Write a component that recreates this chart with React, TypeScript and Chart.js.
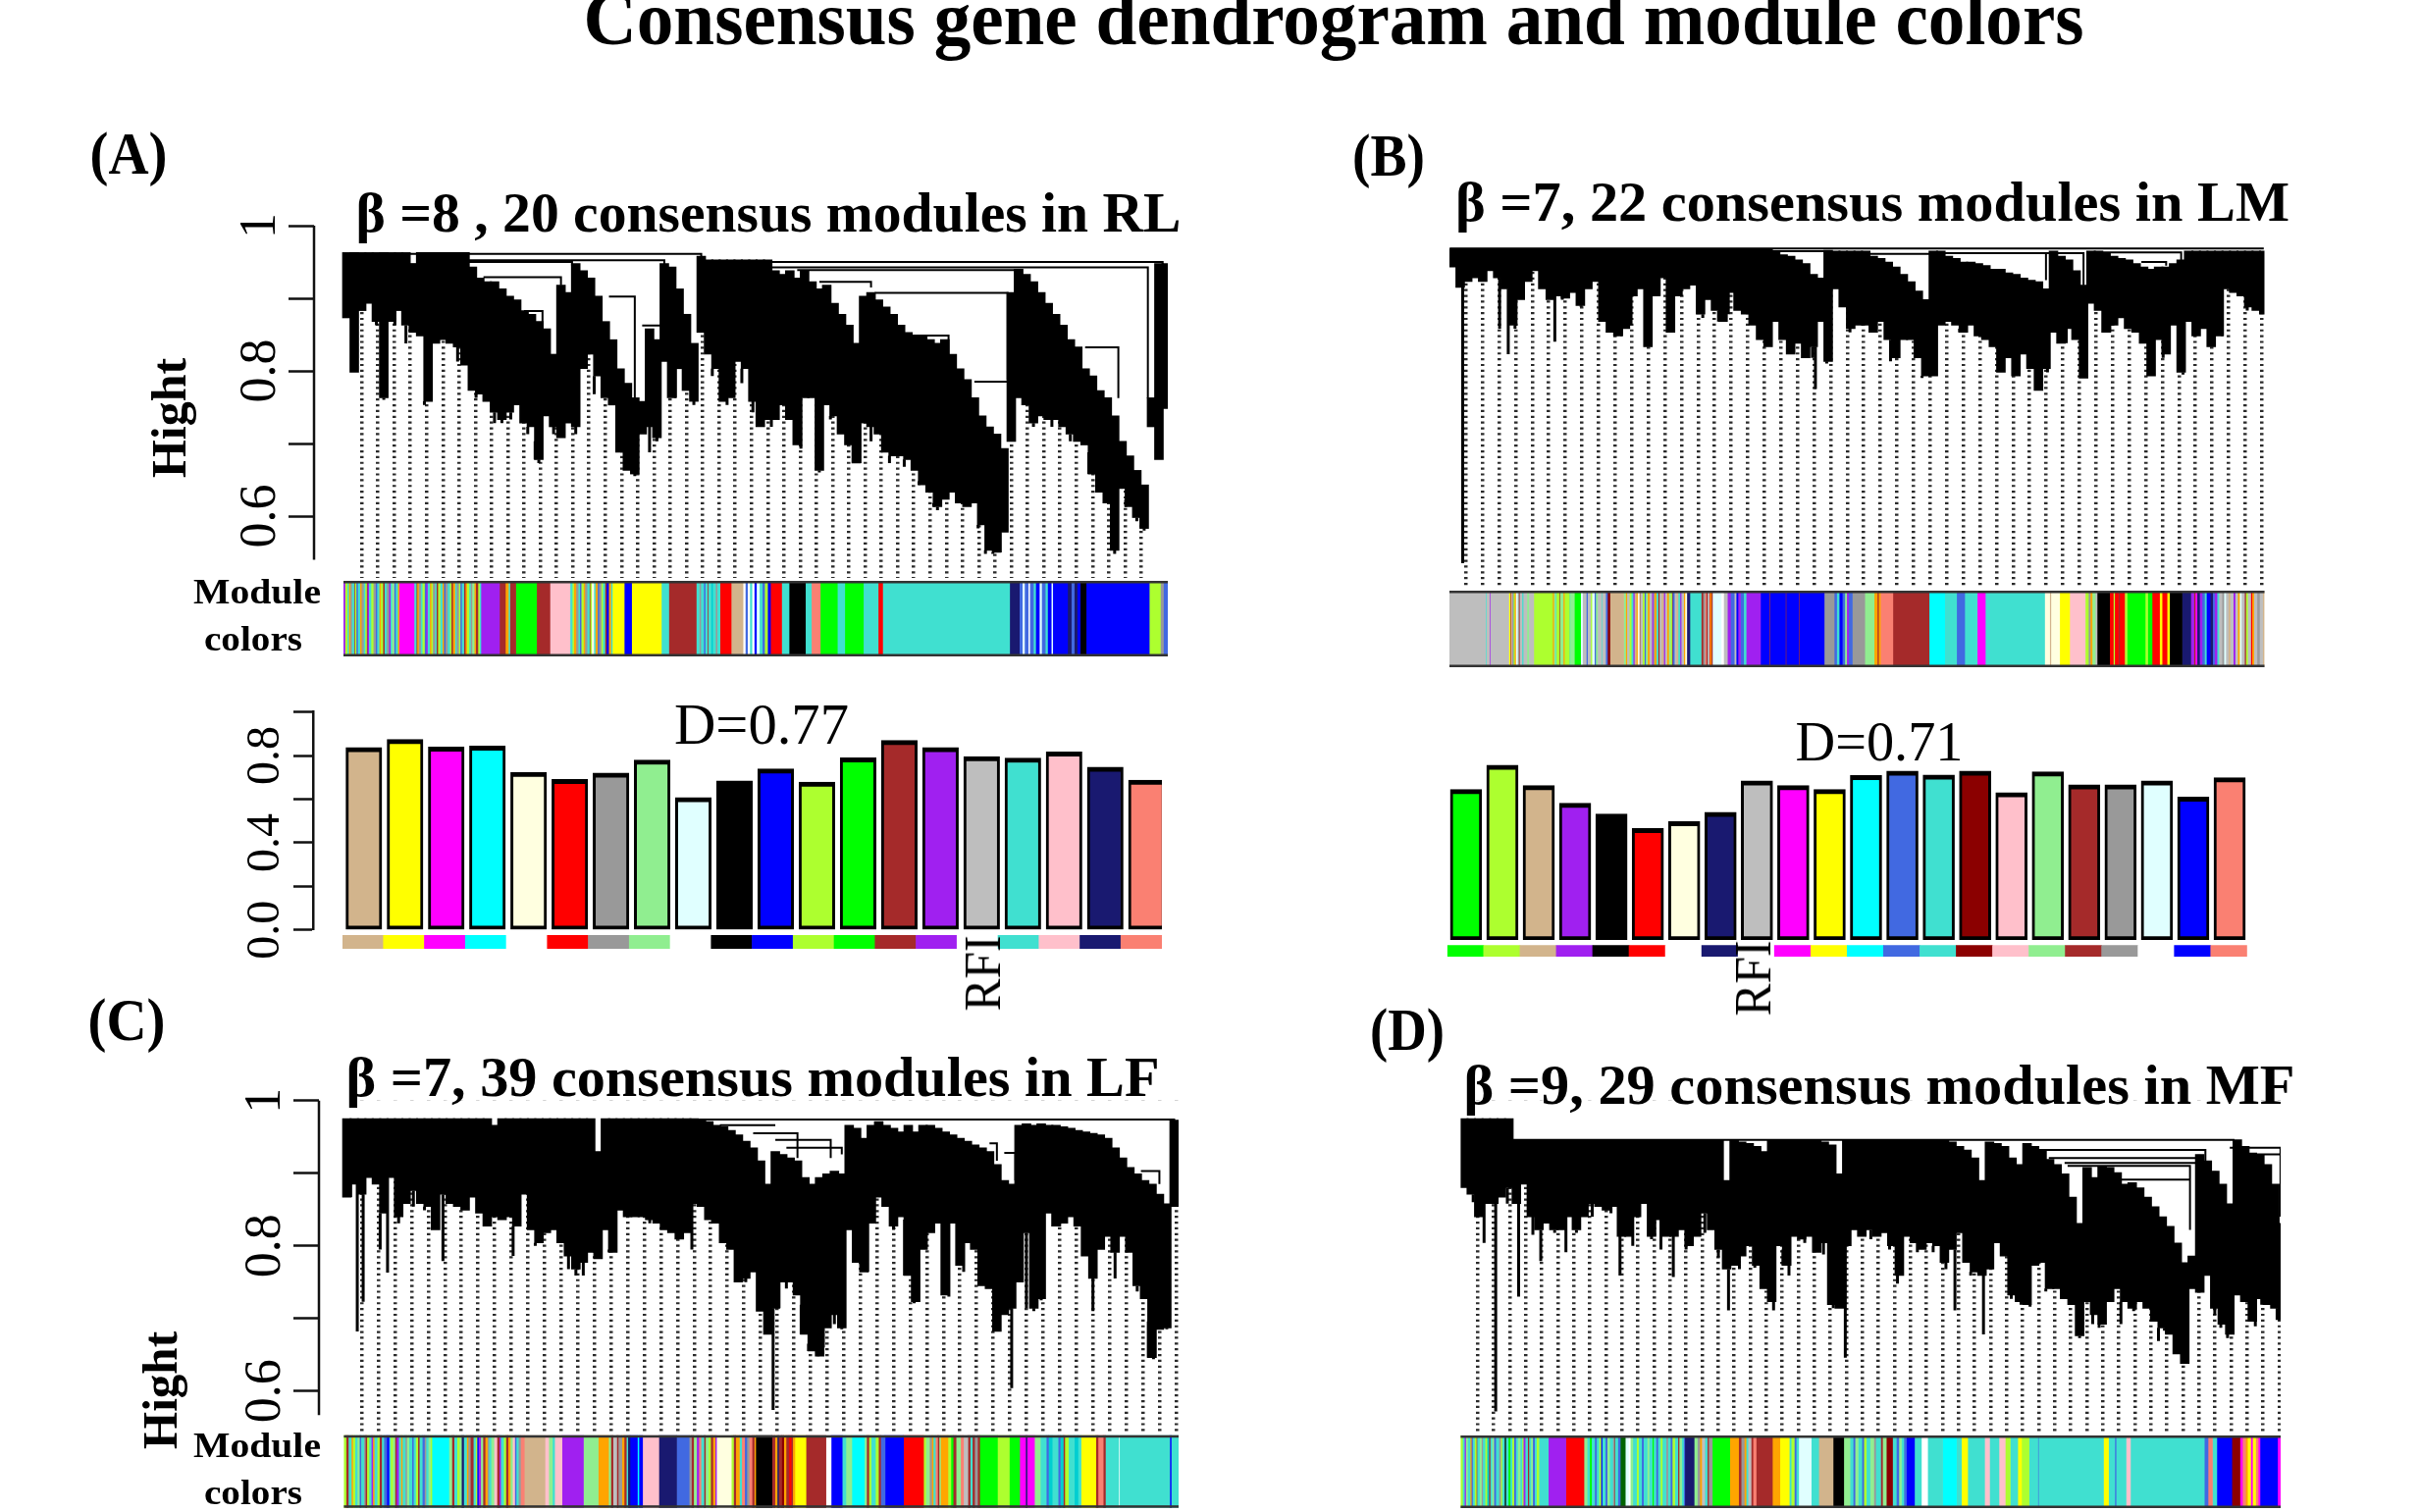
import React, { useEffect, useRef } from 'react';
import { Chart, registerables } from 'chart.js';

Chart.register(...registerables);

const SERIF = '"Liberation Serif"';

const PALETTE: Record<string, string> = {
  T: '#40E0D0', B: '#0000FF', N: '#A52A2A', Y: '#FFFF00', G: '#00FF00', R: '#FF0000', K: '#000000',
  P: '#FFC0CB', M: '#FF00FF', U: '#A020F0', L: '#ADFF2F', A: '#D2B48C', S: '#FA8072', C: '#00FFFF',
  V: '#191970', H: '#E0FFFF', X: '#999999', I: '#90EE90', Q: '#FFFFE0', O: '#4169E1', D: '#8B0000',
  E: '#BEBEBE', W: '#FFFFFF', F: '#FFA500', Z: '#006400', J: '#00CED1',
};

// ---- dendrogram A (RL)
const aLow = [
  .873,.798,.883,.893,.868,.763,.868,.883,.863,.853,
  .848,.758,.838,.843,.838,.833,.808,.773,.768,.758,
  .743,.733,.743,.753,.728,.723,.678,.738,.723,.708,
  .728,.723,.803,.823,.793,.763,.753,.688,.663,.658,
  .713,.723,.708,.813,.763,.803,.773,.758,.853,.823,
  .803,.758,.763,.813,.803,.758,.723,.733,.733,.753,
  .733,.698,.763,.763,.663,.753,.738,.713,.698,.673,
  .728,.723,.713,.688,.683,.683,.678,.663,.643,.633,
  .613,.623,.633,.618,.613,.618,.588,.553,.550,.578,
  .703,.763,.753,.728,.738,.733,.733,.723,.713,.703,
  .698,.658,.633,.618,.553,.638,.613,.598,.583,.723,
  .678,.748,
];
const aTop = [
  .963,.963,.963,.963,.963,.963,.963,.963,.963,.948,
  .963,.963,.963,.963,.963,.963,.963,.943,.928,.923,
  .923,.913,.903,.898,.883,.878,.868,.858,.823,.918,
  .908,.948,.938,.928,.903,.868,.843,.803,.783,.763,
  .758,.858,.843,.948,.943,.913,.878,.838,.958,.953,
  .953,.953,.953,.953,.953,.953,.953,.953,.938,.933,
  .938,.928,.938,.923,.913,.918,.893,.878,.863,.838,
  .903,.908,.898,.888,.878,.863,.853,.848,.848,.843,
  .838,.843,.823,.803,.788,.763,.738,.723,.713,.693,
  .908,.940,.933,.923,.908,.893,.878,.863,.843,.833,
  .803,.793,.773,.763,.738,.703,.683,.663,.643,.763,
  .948,.948,
];
const aSpikeX = [1,5,10.5,21,26,39,42,51.5,56,64,69.5,80,87.5,104,108,110,
  4,6.5,8,12.5,15,17.5,18.5,20,22.2,24.5,25.5,28,31,33.5,35.5,37.5,38.5,41,44.5,47,49.5,53.5,55,57.5,59.5,61.5,65.5,67.5,71,73.5,75.5,77.5,79.5,82.5,85.5,86.5,88.5,93,95.5,98,100.5,102.5,105.5,107];
const aSpikeV = [.798,.760,.753,.728,.673,.655,.703,.753,.723,.660,.673,.608,.548,.548,.580,.678,
  .863,.863,.838,.843,.813,.763,.758,.728,.733,.713,.703,.713,.713,.768,.753,.663,.658,.688,.763,.753,.793,.783,.743,.723,.733,.693,.733,.698,.703,.673,.668,.648,.618,.618,.583,.548,.550,.723,.723,.703,.688,.618,.623,.593];
const aBranches = [
  [8.5,48,.961,.955],[16,43,.9525,.860],[16,30.5,.950,.945],[18.5,29,.929,.918],[24,26.5,.8825,.8375],
  [35.5,39,.9025,.7625],[40,43,.8625,.8625],[57,110.5,.950,.9025],[57,108.5,.9425,.7625],[61,90.5,.939,.9075],
  [64,71,.9225,.915],[71.5,89.5,.9075,.7875],[76,81.5,.8488,.823],[85,89.5,.785,.785],[100,104.5,.8325,.7625],
];

// ---- dendrogram B (LM)
const bLow = [
  .943,.915,.923,.928,.923,.938,.928,.913,.863,.898,
  .923,.938,.913,.898,.903,.900,.908,.890,.913,.923,
  .868,.853,.848,.858,.903,.913,.833,.903,.928,.853,
  .903,.913,.918,.878,.898,.883,.868,.908,.883,.878,
  .863,.843,.833,.868,.843,.823,.838,.818,.833,.868,
  .813,.913,.888,.858,.863,.863,.853,.868,.843,.818,
  .843,.843,.818,.793,.793,.863,.868,.863,.853,.863,
  .848,.843,.833,.798,.818,.793,.823,.803,.773,.803,
  .853,.838,.858,.843,.790,.893,.883,.853,.863,.873,
  .858,.853,.838,.793,.843,.823,.863,.798,.868,.848,
  .858,.833,.848,.913,.908,.903,.888,.883,.878,
];
const bTop = [
  .968,.968,.968,.968,.968,.968,.968,.968,.968,.968,
  .968,.968,.968,.968,.968,.968,.968,.968,.968,.968,
  .968,.968,.968,.968,.968,.968,.968,.968,.968,.968,
  .968,.968,.968,.968,.968,.968,.968,.968,.968,.968,
  .968,.968,.968,.963,.960,.958,.953,.948,.933,.928,
  .966,.965,.965,.965,.965,.965,.958,.955,.950,.943,
  .933,.923,.910,.898,.965,.965,.958,.955,.950,.950,
  .948,.945,.940,.940,.935,.933,.928,.925,.923,.913,
  .965,.958,.953,.938,.918,.965,.965,.963,.958,.955,
  .953,.948,.943,.940,.943,.943,.948,.953,.965,.965,
  .965,.965,.965,.965,.965,.965,.965,.965,.965,
];
const bSpikeX = [1.33,6.25,7.4,8.3,13.6,26.1,29,48.3,49.8,62.5,63.9,78.2,83.75,92.75,97.25,101.25,102.5,
  3.5,10.4,12.9,14.6,17.1,20,21.7,22.5,23.75,27.5,33.3,35.4,36.7,40.8,42.1,44.6,46.7,47.9,52.9,55,58.3,60.4,67.5,70.8,73.3,75,77.1,79.2,81.7,87.5,90,94.6,98.75,100,105.8];
const bSpikeV = [.535,.858,.823,.858,.840,.833,.853,.775,.810,.790,.793,.773,.790,.793,.795,.833,.848,
  .923,.923,.898,.898,.888,.868,.848,.848,.863,.903,.873,.868,.878,.843,.833,.823,.818,.818,.853,.863,.813,.843,.858,.843,.798,.793,.803,.798,.838,.853,.858,.818,.848,.858,.883];
const bBranches = [
  [-.4,108,.9685,.9685],[42.5,49.6,.965,.928],[55.4,63.75,.961,.8975],[64,79,.962,.925],
  [79,84,.962,.918],[85,97,.963,.948],[91.7,95,.950,.945],
];

// ---- dendrogram C (LF)
const cLow = [
  .867,.885,.871,.894,.885,.845,.894,.840,.858,.876,
  .858,.854,.822,.871,.858,.854,.849,.867,.845,.827,
  .840,.836,.840,.827,.871,.822,.804,.818,.822,.804,
  .786,.768,.777,.791,.782,.822,.791,.849,.840,.840,
  .840,.836,.831,.822,.818,.809,.818,.858,.854,.836,
  .831,.804,.795,.750,.755,.764,.710,.678,.714,.750,
  .750,.732,.678,.655,.648,.687,.705,.687,.822,.777,
  .764,.831,.867,.854,.827,.840,.759,.723,.795,.818,
  .831,.732,.831,.773,.804,.795,.745,.741,.682,.705,
  .714,.750,.818,.714,.727,.845,.827,.831,.840,.827,
  .786,.755,.795,.813,.791,.813,.791,.745,.727,.646,
  .685,.687,.854,
];
const cTop = [
  .975,.975,.975,.975,.975,.975,.975,.975,.975,.975,
  .975,.975,.975,.975,.975,.975,.975,.975,.975,.975,
  .966,.975,.975,.975,.975,.975,.975,.975,.975,.975,
  .975,.975,.975,.975,.930,.975,.975,.975,.975,.975,
  .975,.975,.975,.975,.975,.975,.975,.975,
  .973,.971,.966,.964,.959,.953,.944,.935,.917,.885,
  .930,.926,.921,.917,.894,.885,.894,.899,.903,.899,
  .966,.962,.948,.966,.971,.966,.962,.957,.966,.957,
  .966,.966,.962,.957,.953,.948,.944,.939,.935,.930,
  .912,.890,.885,.966,.968,.966,.968,.966,.966,.964,
  .962,.959,.957,.955,.953,.948,.935,.921,.908,.899,
  .890,.885,.871,.858,.973,
];
const cSpikeX = [1.4,2.2,5.5,13,22.5,32,53,57.7,63.8,67,76.8,81.5,90,94,109.2,
  .5,4.5,7,9,10.5,15.5,18.5,25.5,30,31,35.5,41,44.5,46.7,49.5,51.5,54,56,58.5,59.5,61.5,62.5,64.5,66,69.5,70.5,74,75.5,83.5,86,88,89,92,93,96.5,101,104,107,108.5,111];
const cSpikeV = [.682,.723,.763,.779,.786,.759,.750,.574,.649,.685,.721,.730,.604,.725,.644,
  .867,.795,.831,.854,.849,.849,.827,.800,.768,.759,.795,.831,.809,.795,.836,.795,.750,.710,.714,.741,.719,.665,.660,.692,.764,.764,.822,.836,.764,.745,.682,.705,.714,.710,.827,.710,.755,.737,.696,.685];
const cBranches = [
  [47,112,.974,.885],[50.5,58,.966,.966],[55,61,.955,.921],[58,65.5,.946,.921],[59.5,67,.935,.926],
  [87,88,.941,.917],[89,90.5,.928,.890],[107.5,110,.903,.885],
];

// ---- dendrogram D (MF)
const dLow = [
  .880,.871,.840,.858,.858,.867,.880,.858,.885,.840,
  .822,.831,.822,.822,.840,.822,.840,.858,.854,.849,
  .854,.813,.813,.840,.858,.813,.836,.813,.813,.822,
  .800,.813,.845,.822,.795,.768,.773,.786,.800,.773,
  .741,.723,.800,.773,.813,.809,.813,.791,.804,.719,
  .714,.800,.822,.813,.822,.813,.818,.800,.759,.813,
  .804,.795,.804,.800,.777,.795,.818,.777,.764,.759,
  .768,.804,.786,.732,.723,.719,.773,.777,.741,.741,
  .727,.719,.676,.723,.705,.692,.723,.741,.723,.714,
  .723,.714,.696,.687,.678,.651,.638,.741,.736,.759,
  .714,.692,.678,.732,.723,.696,.727,.719,.714,.698,
];
const dTop = [
  .975,.975,.975,.975,.975,.975,.975,.946,.946,.946,
  .946,.946,.946,.946,.946,.946,.946,.946,.946,.946,
  .946,.946,.946,.946,.946,.946,.946,.946,.946,.946,
  .946,.946,.946,.946,.946,.890,.946,.943,.941,.937,
  .930,.946,.946,.946,.946,.946,.946,.946,.943,.939,
  .899,.946,.946,.946,.946,.946,.946,.946,.946,.946,
  .946,.946,.946,.946,.946,.943,.937,.932,.921,.890,
  .943,.941,.937,.921,.912,.941,.937,.932,.919,.912,
  .899,.867,.831,.908,.894,.910,.908,.901,.885,.887,
  .880,.867,.854,.840,.827,.804,.777,.786,.926,.917,
  .903,.885,.858,.946,.937,.928,.926,.912,.885,.831,
];
const dSpikeX = [1.25,2.7,4.25,7.3,10.25,13.6,20.8,22.5,27.9,35.25,41.25,43.3,49.2,50.8,57.75,65.4,69.2,75.4,82,84.6,92.5,96.25,101.7,105.4,
  5.8,9.2,12.1,15,17.1,19.6,25,26.25,29.6,32.1,33.9,36.7,38.75,40,42.5,45.4,47.9,52.9,54.2,56.7,60.4,62.5,64.2,67.5,72.9,74.2,77.5,79.6,80.8,83.75,87.5,89.2,93.3,97.9,100,100.8,105,106.25,108.3];
const dSpikeV = [.860,.804,.572,.730,.779,.791,.759,.800,.757,.711,.711,.759,.714,.646,.748,.711,.678,.716,.673,.687,.669,.638,.673,.689,
  .858,.815,.818,.818,.840,.845,.809,.795,.795,.818,.784,.768,.770,.741,.795,.804,.788,.813,.809,.795,.791,.791,.768,.759,.727,.719,.737,.727,.719,.692,.692,.710,.683,.736,.705,.687,.705,.719,.698];
const dBranches = [
  [6.5,102.5,.946,.930],[75.8,98.75,.932,.899],[77.9,98.3,.921,.917],[80,97.9,.914,.858],[80.4,96.7,.910,.822],
  [85.4,96.7,.891,.891],[102,108.75,.935,.840],[105.4,108.75,.926,.915],
];

// ---- module colour strips: colour key + width
const stripA = 'U2 L3 T2 F2 X2 T3 N1 L2 O2 T3 F2 X3 T2 L2 N1 U2 T3 L3 X3 O2 T3 F2 L3 N2 T3 X3 U2 T2 I3 O2 T3 F2 M20 T3 N1 F2 X3 T2 L3 O2 U2 T3 F2 L2 X3 T2 N2 L3 T3 F2 O2 X3 T3 L2 N2 F3 T2 X3 L2 O2 T3 N2 F2 L3 T2 X2 I3 F2 N3 L2 T2 U25 N8 F4 T2 N8 G28 N18 P27 T3 L2 F3 X3 T2 O2 L3 F2 X3 T3 N1 L2 Q3 T2 F3 O2 X3 L2 T3 N2 B3 F3 T2 Y16 B10 Y40 T10 N37 T4 X2 T4 O2 T3 N1 T4 J2 T4 X2 T4 R15 A16 W3 O3 W3 T3 W3 B3 H4 T4 O3 L4 B4 R15 T10 K22 T8 S12 G23 T10 G25 T20 R6 T171 V13 O4 H3 O5 W2 O5 T3 B5 H3 O5 T3 B5 H2 B20 V5 O4 V4 B4 K8 B85 L15 X4 O6';
const stripB = 'E58 T1 E5 U1 E30 Y2 N1 A3 O1 L2 F2 H3 X2 N1 E4 T2 E6 I3 E8 L30 F2 I3 T1 L5 N1 I5 F2 L8 T1 I7 G10 H3 E6 O2 E5 L2 H4 O2 I3 E6 T1 E6 O3 D4 A22 I3 F2 E4 L3 T3 U2 A3 F2 Q3 N1 E4 L3 O2 I3 F3 E4 U2 X2 F3 T3 N2 E3 A4 U2 E3 F3 I3 L2 N1 O3 E3 A3 T3 U2 E4 F2 Q3 V5 T18 N3 X3 S2 N2 E3 R1 F2 N2 H14 W4 E6 U5 O6 E3 B3 U4 O5 T4 U23 B14 N1 B25 N1 B20 N1 B40 X16 O4 T4 B5 O4 I3 U3 O6 X20 I15 F5 N2 F3 S5 S15 N58 C25 T19 O13 T20 M13 T95 Q8 A2 Q14 Y16 P25 L5 X3 F3 I5 E3 K20 R6 L2 R6 N2 R8 L4 G4 G25 L4 G7 R12 Y4 R8 Y4 K20 V14 U5 N2 M3 V4 U4 O4 T3 B6 V4 O3 U4 T3 E5 X3 H3 E4 A3 E5 U3 E4 F3 H3 E5 N2 L3 E5 R2 F3 E5 X4 E5 A3';
const stripC = 'L3 N3 T4 F2 L3 T3 I3 O2 T4 X2 N2 L3 T3 U2 F2 T4 L3 N3 T3 O4 B3 T2 L3 I3 N2 U3 T3 F2 T4 X2 I3 T4 O2 T3 L3 N2 T4 O3 X2 T3 I3 L2 C5 C18 I4 N3 T4 L3 I3 V3 T4 F2 X3 N4 T3 L2 B2 U3 I3 N3 F3 X2 T3 I4 P4 N3 U2 T4 L3 N3 F3 I3 P3 O2 T3 X3 S5 A28 P5 I5 T3 P10 U29 I20 F14 I3 N3 E5 N2 X5 F3 N3 T2 V3 B10 C2 B5 P22 V24 O17 X3 N3 I4 U3 S3 T4 N2 I4 L3 N3 F3 U2 Q20 L3 N3 F5 T3 S4 O3 X3 S4 N3 F2 K22 N4 F3 V2 N4 D3 F3 N4 R3 N2 F3 Y15 N27 W7 B15 T5 I8 C17 I3 N3 L3 T6 L4 N3 O6 B25 R27 L3 I5 X3 F2 T3 S3 N2 I2 F10 L4 G3 N4 I6 S4 E6 N3 T3 N3 X4 N3 G24 L16 G14 M8 V2 M10 I8 T8 O3 J5 T8 O3 J4 N2 L5 T8 J5 T4 Y20 N3 S7 N3 T18 W1 T68 B2 T10';
const stripD = 'L3 T3 U2 I3 T4 F2 O2 T3 L3 N1 T4 I3 X2 T4 L3 J3 N2 T3 I3 O3 T5 X3 L2 T4 K2 T4 G3 T3 L3 O3 T3 I4 T3 L2 U3 T4 N2 T3 I3 O3 T3 L4 T15 U28 R29 I5 T4 G3 T5 O3 T4 L3 B2 T5 O3 I4 T5 X2 N1 T5 O4 Z8 H5 W3 I4 T6 L3 T5 O3 T6 I3 T5 G2 T4 O3 T4 L3 T6 X3 T4 O3 L4 T5 N2 I4 T3 O2 V15 I5 X4 F3 E5 T4 N2 X6 G28 F14 N4 X5 F3 T3 E5 N3 S5 N26 F12 Y15 T3 L5 O3 T4 H20 T12 A23 K17 I10 T5 O3 I5 T6 O3 L4 T6 I6 X3 T8 N3 I6 D10 T6 O4 I4 T4 O4 B13 T11 W10 T24 C22 T8 Y10 T27 P8 T15 P10 L8 T12 Y6 L12 T14 O1 T104 Y8 T10 O2 T16 P7 T118 O6 S7 T7 B24 D13 M4 S5 F3 Y5 M3 Y5 S4 M3 B28 M5';

// ---- module preservation bars
const rfiAModules = ['tan','yellow','magenta','cyan','lightyellow','red','grey60','lightgreen','lightcyan','black','blue','greenyellow','green','brown','purple','grey','turquoise','pink','midnightblue','salmon'];
const rfiAValues = [.837,.874,.840,.844,.724,.691,.720,.780,.607,.684,.739,.678,.790,.870,.837,.796,.789,.817,.747,.687];
const rfiAColors = ['#D2B48C','#FFFF00','#FF00FF','#00FFFF','#FFFFE0','#FF0000','#999999','#90EE90','#E0FFFF','#000000','#0000FF','#ADFF2F','#00FF00','#A52A2A','#A020F0','#BEBEBE','#40E0D0','#FFC0CB','#191970','#FA8072'];
const rowAColors = ['#D2B48C','#FFFF00','#FF00FF','#00FFFF','#FFFFFF','#FF0000','#999999','#90EE90','#FFFFFF','#000000','#0000FF','#ADFF2F','#00FF00','#A52A2A','#A020F0','#FFFFFF','#40E0D0','#FFC0CB','#191970','#FA8072'];

const rfiBModules = ['green','greenyellow','tan','purple','black','red','lightyellow','midnightblue','grey','magenta','yellow','cyan','royalblue','turquoise','darkred','pink','lightgreen','brown','grey60','lightcyan','blue','salmon'];
const rfiBValues = [.691,.803,.709,.628,.578,.512,.544,.586,.731,.709,.691,.755,.776,.758,.776,.677,.772,.713,.713,.731,.656,.745];
const rfiBColors = ['#00FF00','#ADFF2F','#D2B48C','#A020F0','#000000','#FF0000','#FFFFE0','#191970','#BEBEBE','#FF00FF','#FFFF00','#00FFFF','#4169E1','#40E0D0','#8B0000','#FFC0CB','#90EE90','#A52A2A','#999999','#E0FFFF','#0000FF','#FA8072'];
const rowBColors = ['#00FF00','#ADFF2F','#D2B48C','#A020F0','#000000','#FF0000','#FFFFFF','#191970','#FFFFFF','#FF00FF','#FFFF00','#00FFFF','#4169E1','#40E0D0','#8B0000','#FFC0CB','#90EE90','#A52A2A','#999999','#FFFFFF','#0000FF','#FA8072'];

// ---- axis ticks
const dendTickValues = [1, .9, .8, .7, .6];
const dendTickLabels = ['1', '', '0.8', '', '0.6'];
const barTickValues = [1, .8, .6, .4, .2, 0];
const barTickLabels = ['', '0.8', '', '0.4', '', '0.0'];

// ---- text
const LABELS = [
  { text: 'Consensus gene dendrogram and module colors', cx: 1358.5, cy: 18.7, w: 1529, size: 78, weight: 700, rot: 0 },
  { text: '(A)', cx: 131, cy: 156, w: 79, size: 62, weight: 700, rot: 0 },
  { text: '(B)', cx: 1415, cy: 158, w: 74, size: 62, weight: 700, rot: 0 },
  { text: '(C)', cx: 129, cy: 1039, w: 79, size: 62, weight: 700, rot: 0 },
  { text: '(D)', cx: 1434, cy: 1049, w: 76, size: 62, weight: 700, rot: 0 },
  { text: 'β =8 , 20 consensus modules in RL', cx: 783, cy: 217, w: 841, size: 56, weight: 700, rot: 0 },
  { text: 'β =7, 22 consensus modules in LM', cx: 1908, cy: 205.8, w: 850, size: 56, weight: 700, rot: 0 },
  { text: 'β =7, 39 consensus modules in LF', cx: 766.5, cy: 1097.8, w: 829, size: 56, weight: 700, rot: 0 },
  { text: 'β =9, 29 consensus modules in MF', cx: 1915, cy: 1106, w: 847, size: 56, weight: 700, rot: 0 },
  { text: 'Hight', cx: 172, cy: 426, w: 122, size: 50, weight: 700, rot: -90 },
  { text: 'Hight', cx: 163, cy: 1417, w: 120, size: 50, weight: 700, rot: -90 },
  { text: 'Module', cx: 262, cy: 603, w: 130, size: 36, weight: 700, rot: 0 },
  { text: 'colors', cx: 258, cy: 651, w: 100, size: 36, weight: 700, rot: 0 },
  { text: 'Module', cx: 262, cy: 1473, w: 130, size: 36, weight: 700, rot: 0 },
  { text: 'colors', cx: 258, cy: 1521, w: 100, size: 36, weight: 700, rot: 0 },
  { text: 'D=0.77', cx: 776, cy: 738, w: 178, size: 60, weight: 400, rot: 0 },
  { text: 'D=0.71', cx: 1914.5, cy: 756, w: 171, size: 58, weight: 400, rot: 0 },
  { text: 'RFI', cx: 1001.5, cy: 991.5, w: 77, size: 52, weight: 400, rot: -90 },
  { text: 'RFI', cx: 1786.5, cy: 996.5, w: 77, size: 52, weight: 400, rot: -90 },
];

type Area = { l: number; r: number; t: number; b: number };

// canvas box around a wanted plot area
function box(area: Area, axisW: number, padT: number, padB: number) {
  const left = Math.floor(area.l - axisW);
  const top = Math.floor(area.t - padT);
  const width = Math.ceil(area.r) - left;
  const height = Math.ceil(area.b + padB) - top;
  return {
    left, top, width, height,
    padding: { left: area.l - axisW - left, top: area.t - top, right: width - (area.r - left), bottom: height - (area.b - top) },
  };
}

const base = (padding: any) => ({
  responsive: false,
  animation: false,
  devicePixelRatio: 1,
  events: [],
  layout: { padding },
  plugins: { legend: { display: false }, tooltip: { enabled: false } },
});

function guideList(start: number, step: number, count: number) {
  const out: number[] = [];
  for (let i = 0; i < count; i++) out.push(start + i * step);
  return out;
}

function dendrogram(o: {
  low: number[]; top: number[]; spikeX: number[]; spikeV: number[]; branches: number[][];
  area: Area; xMin: number; xMax: number; yMin: number; guides: number[]; axisW: number;
}) {
  const b = box(o.area, o.axisW, o.axisW ? 40 : 0, 0.5);
  const spikePts: any[] = [];
  o.spikeX.forEach((x, i) => {
    const k = Math.min(o.low.length - 1, Math.max(0, Math.round(x)));
    spikePts.push({ x, y: o.low[k] }, { x, y: o.spikeV[i] }, { x, y: null });
  });
  const branchPts: any[] = [];
  o.branches.forEach(([x1, x2, v, vEnd]) => {
    branchPts.push({ x: x1, y: v }, { x: x2, y: v }, { x: x2, y: vEnd }, { x: x2, y: null });
  });
  const datasets: any[] = [
    { type: 'bar', order: 5, grouped: false, barPercentage: 1.15, categoryPercentage: 1, barThickness: 9, backgroundColor: '#fff', borderWidth: 0, data: o.top.map((t, i) => ({ x: i, y: [t, 1] })) },
    { type: 'bar', order: 4, grouped: false, barPercentage: 1.15, categoryPercentage: 1, barThickness: 9, backgroundColor: '#000', borderWidth: 0, data: o.low.map((l, i) => ({ x: i, y: [l, o.top[i]] })) },
    { type: 'line', order: 3, borderColor: '#000', borderWidth: 3, pointRadius: 0, tension: 0, fill: false, data: spikePts },
    { type: 'line', order: 2, borderColor: '#000', borderWidth: 2, pointRadius: 0, tension: 0, fill: false, data: branchPts },
  ];
  if (o.axisW) {
    datasets.push({ type: 'line', order: 1, clip: false, borderColor: '#111', borderWidth: 2.5, pointRadius: 0, tension: 0, fill: false, data: [{ x: o.xMin, y: 1 }, { x: o.xMin, y: o.yMin + 0.025 }] });
  }
  const config: any = {
    type: 'bar',
    data: { datasets },
    options: {
      ...base(b.padding),
      scales: {
        x: {
          type: 'linear', min: o.xMin, max: o.xMax, offset: false,
          afterBuildTicks: (s: any) => { s.ticks = o.guides.map((value) => ({ value })); },
          afterFit: (s: any) => { s.height = 0; s.paddingLeft = 0; s.paddingRight = 0; },
          ticks: { display: false, autoSkip: false },
          grid: { color: '#2a2a2a', lineWidth: 3.5, drawTicks: false, offset: false },
          border: { display: false, dash: [2.2, 3.67] },
        },
        y: o.axisW ? {
          type: 'linear', min: o.yMin, max: 1, position: 'left',
          afterBuildTicks: (s: any) => { s.ticks = dendTickValues.map((value) => ({ value })); },
          afterFit: (s: any) => { s.width = o.axisW; s.paddingTop = 0; s.paddingBottom = 0; },
          ticks: {
            autoSkip: false, minRotation: 90, maxRotation: 90, crossAlign: 'center', padding: -5, color: '#000',
            font: { family: SERIF, size: 52 },
            callback: (_v: any, i: number) => dendTickLabels[i],
          },
          grid: { drawOnChartArea: false, tickLength: 26, tickWidth: 2.5, tickColor: '#111' },
          border: { display: false },
        } : { type: 'linear', min: o.yMin, max: 1, display: false },
      },
    },
  };
  return { ...b, config };
}

function strip(tokens: string, area: Area) {
  const b = box(area, 0, 0, 0);
  const parts = tokens.split(' ');
  const total = parts.reduce((s, t) => s + Number(t.slice(1)), 0);
  const frame = {
    id: 'stripFrame',
    afterDraw(c: any) {
      const { ctx, chartArea: a } = c;
      ctx.save();
      ctx.fillStyle = '#333';
      ctx.fillRect(a.left, a.top, a.right - a.left, 2.5);
      ctx.fillRect(a.left, a.bottom - 2.5, a.right - a.left, 2.5);
      ctx.restore();
    },
  };
  const config: any = {
    type: 'bar',
    data: {
      labels: ['modules'],
      datasets: parts.map((t) => ({ data: [Number(t.slice(1))], backgroundColor: PALETTE[t[0]], borderWidth: 0, barPercentage: 1, categoryPercentage: 1 })),
    },
    options: {
      ...base(b.padding),
      indexAxis: 'y',
      scales: {
        x: { stacked: true, min: 0, max: total, display: false },
        y: { stacked: true, display: false },
      },
    },
    plugins: [frame],
  };
  return { ...b, config };
}

function rfiBars(o: {
  values: number[]; colors: string[]; area: Area; xMin: number; xMax: number; thickness: number; axisW: number;
}) {
  const b = box(o.area, o.axisW, 45, 40);
  const config: any = {
    type: 'bar',
    data: {
      datasets: [{
        grouped: false, barPercentage: 1, categoryPercentage: 1, barThickness: o.thickness,
        backgroundColor: o.colors, borderColor: '#000', borderSkipped: false,
        borderWidth: { top: 5, left: 3, right: 3, bottom: 4 },
        data: o.values.map((y, i) => ({ x: i, y })),
      }],
    },
    options: {
      ...base(b.padding),
      scales: {
        x: { type: 'linear', min: o.xMin, max: o.xMax, display: false, offset: false },
        y: o.axisW ? {
          type: 'linear', min: 0, max: 1, position: 'left',
          afterBuildTicks: (s: any) => { s.ticks = barTickValues.map((value) => ({ value })); },
          afterFit: (s: any) => { s.width = o.axisW; s.paddingTop = 0; s.paddingBottom = 0; },
          ticks: {
            autoSkip: false, minRotation: 90, maxRotation: 90, crossAlign: 'center', padding: -2, color: '#000',
            font: { family: SERIF, size: 48 },
            callback: (_v: any, i: number) => barTickLabels[i],
          },
          grid: { drawOnChartArea: false, tickLength: 20, tickWidth: 2.5, tickColor: '#111' },
          border: { display: true, width: 2.5, color: '#111' },
        } : { type: 'linear', min: 0, max: 1, display: false },
      },
    },
  };
  return { ...b, config };
}

function colorRow(names: string[], colors: string[], area: Area) {
  const b = box(area, 0, 0, 0);
  const config: any = {
    type: 'bar',
    data: {
      labels: names,
      datasets: [{ data: names.map(() => 1), backgroundColor: colors, borderWidth: 0, barPercentage: 1, categoryPercentage: 1 }],
    },
    options: {
      ...base(b.padding),
      scales: { x: { display: false }, y: { min: 0, max: 1, display: false } },
    },
  };
  return { ...b, config };
}

const PANELS = [
  dendrogram({ low: aLow, top: aTop, spikeX: aSpikeX, spikeV: aSpikeV, branches: aBranches, area: { l: 320, r: 1190, t: 230, b: 589 }, xMin: -4.45, xMax: 111.2, yMin: .5149, guides: guideList(2, 2.2, 49), axisW: 120 }),
  dendrogram({ low: bLow, top: bTop, spikeX: bSpikeX, spikeV: bSpikeV, branches: bBranches, area: { l: 1477, r: 2307.5, t: 230, b: 598 }, xMin: -.43, xMax: 108.09, yMin: .5025, guides: guideList(1.75, 2.208, 49), axisW: 0 }),
  dendrogram({ low: cLow, top: cTop, spikeX: cSpikeX, spikeV: cSpikeV, branches: cBranches, area: { l: 325, r: 1201, t: 1121.7, b: 1460.7 }, xMin: -3.79, xMax: 112.6, yMin: .5419, guides: guideList(2, 2.25, 50), axisW: 120 }),
  dendrogram({ low: dLow, top: dTop, spikeX: dSpikeX, spikeV: dSpikeV, branches: dBranches, area: { l: 1488.4, r: 2324, t: 1121.7, b: 1460.7 }, xMin: -.42, xMax: 108.77, yMin: .5419, guides: guideList(1.83, 2.135, 51), axisW: 0 }),
  strip(stripA, { l: 350, r: 1190, t: 592, b: 669 }),
  strip(stripB, { l: 1477, r: 2307.5, t: 602, b: 680 }),
  strip(stripC, { l: 350.4, r: 1201, t: 1462.7, b: 1536.7 }),
  strip(stripD, { l: 1488.4, r: 2324, t: 1463, b: 1537 }),
  rfiBars({ values: rfiAValues, colors: rfiAColors, area: { l: 319, r: 1184, t: 725.7, b: 947.7 }, xMin: -1.234, xMax: 19.376, thickness: 36.5, axisW: 119 }),
  rfiBars({ values: rfiBValues, colors: rfiBColors, area: { l: 1470, r: 2295, t: 736, b: 958 }, xMin: -.645, xMax: 21.62, thickness: 32, axisW: 0 }),
  colorRow(rfiAModules, rowAColors, { l: 349, r: 1184, t: 953, b: 967 }),
  colorRow(rfiBModules, rowBColors, { l: 1474.8, r: 2289.8, t: 963.3, b: 975 }),
];

function ChartBox({ spec }: { spec: any }) {
  const ref = useRef<HTMLCanvasElement>(null);
  useEffect(() => {
    const chart = new Chart(ref.current as HTMLCanvasElement, spec.config);
    return () => chart.destroy();
  }, [spec]);
  return (
    <canvas
      ref={ref}
      width={spec.width}
      height={spec.height}
      style={{ position: 'absolute', left: spec.left, top: spec.top, width: spec.width, height: spec.height }}
    />
  );
}

const measureCtx = document.createElement('canvas').getContext('2d') as CanvasRenderingContext2D;

function Label({ item }: { item: (typeof LABELS)[number] }) {
  measureCtx.font = `${item.weight} ${item.size}px ${SERIF}`;
  const sx = item.w / measureCtx.measureText(item.text).width;
  return (
    <div
      style={{
        position: 'absolute', left: item.cx, top: item.cy, whiteSpace: 'nowrap', color: '#000',
        fontFamily: SERIF, fontSize: item.size, fontWeight: item.weight, lineHeight: `${item.size}px`,
        transform: `translate(-50%, -50%) rotate(${item.rot}deg) scaleX(${sx})`,
      }}
    >
      {item.text}
    </div>
  );
}

export default function App() {
  useEffect(() => {
    document.body.style.margin = '0';
    document.body.style.background = '#fff';
  }, []);
  return (
    <div style={{ position: 'absolute', left: 0, top: 0, width: 2466, height: 1541, overflow: 'hidden', background: '#fff' }}>
      {PANELS.map((spec, i) => <ChartBox key={i} spec={spec} />)}
      {LABELS.map((item, i) => <Label key={i} item={item} />)}
    </div>
  );
}
